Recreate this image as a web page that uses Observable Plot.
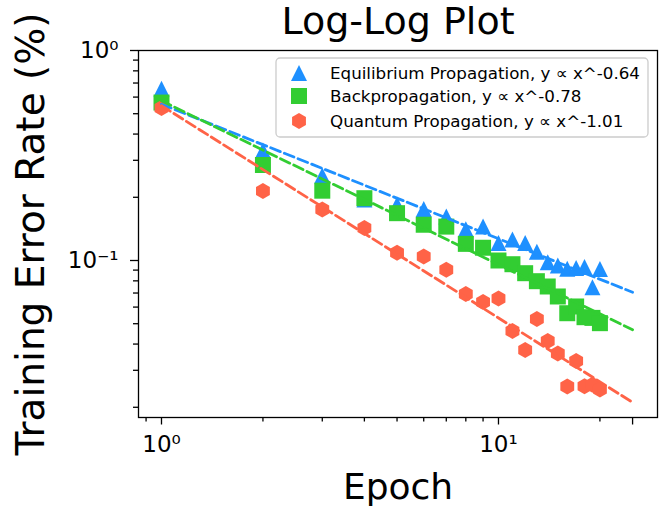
<!DOCTYPE html>
<html><head><meta charset="utf-8">
<script src="https://cdn.jsdelivr.net/npm/d3@7"></script>
<script src="https://cdn.jsdelivr.net/npm/@observablehq/plot@0.6"></script>
<style>
body{margin:0;background:#fff;}
#chart{width:666px;height:509px;}
svg{font-family:"DejaVu Sans",sans-serif;}
</style>
</head><body><div id="chart"></div>
<script>
// ---- data ----
const epochs = [1,2,3,4,5,6,7,8,9,10,11,12,13,14,15,16,17,18,19,20];
const equilibrium = [0.657,0.334,0.254,0.195,0.185,0.176,0.162,0.141,0.145,0.121,0.126,0.121,0.110,0.098,0.0946,0.0913,0.092,0.093,0.0746,0.0910];
const backprop    = [0.565,0.285,0.215,0.198,0.168,0.148,0.145,0.120,0.115,0.100,0.096,0.087,0.0797,0.0752,0.0674,0.0561,0.0604,0.0537,0.0533,0.0503];
const quantum     = [0.532,0.214,0.175,0.143,0.1088,0.1045,0.0903,0.0692,0.0635,0.066,0.0462,0.0375,0.0526,0.0414,0.0361,0.0251,0.0332,0.0252,0.0256,0.0243];
const seriesNames = ["Equilibrium Propagation","Backpropagation","Quantum Propagation"];
const exponents = ["-0.64","-0.78","-1.01"];
const colors = ["#1E90FF","#32CD32","#FF6347"];
// fitted power-law lines: endpoints (epoch 1 and epoch 25)
const fitX = [1, 25];
const fitEquilibrium = [0.555, 0.0706];
const fitBackprop = [0.576, 0.0468];
const fitQuantum = [0.546, 0.0211];
// ticks
const xMajor = [1, 10, 25];
const xMajorLabels = ["10\u2070", "10\u00B9", ""];
const xMinor = [0.9,2,3,4,5,6,7,8,9,20];
const yMajor = [1, 0.1];
const yMajorLabels = ["10\u2070", "10\u207B\u00B9"];
const yMinor = [0.02,0.03,0.04,0.05,0.06,0.07,0.08,0.09,0.2,0.3,0.4,0.5,0.6,0.7,0.8,0.9];
const title = "Log-Log Plot", xLabel = "Epoch", yLabel = "Training Error Rate (%)";

// ---- matplotlib-like marker symbols ----
const triSym = {draw(c, s){const r=Math.sqrt(s/Math.PI);c.moveTo(0,-r);c.lineTo(r,r);c.lineTo(-r,r);c.closePath();}};
const sqSym = {draw(c, s){const r=Math.sqrt(s/Math.PI);c.rect(-r,-r,2*r,2*r);}};
const hexSym = {draw(c, s){const r=Math.sqrt(s/Math.PI);for(let i=0;i<6;i++){const a=-Math.PI/2+i*Math.PI/3;const px=r*Math.cos(a),py=r*Math.sin(a);i?c.lineTo(px,py):c.moveTo(px,py);}c.closePath();}};
const symbols = [triSym, sqSym, hexSym];

const seriesVals = [equilibrium, backprop, quantum];
const fits = [fitEquilibrium, fitBackprop, fitQuantum];
const points = seriesVals.map((vals,k)=>epochs.map((e,i)=>({x:e,y:vals[i]})));
const fitLines = fits.map(f=>fitX.map((x,i)=>({x, y:f[i]})));

const markerR = 8;
const marks = [];
points.forEach((pts,k)=>marks.push(Plot.dot(pts,{x:"x",y:"y",symbol:symbols[k],r:markerR,fill:colors[k],stroke:"none"})));
fitLines.forEach((ln,k)=>marks.push(Plot.line(ln,{x:"x",y:"y",stroke:colors[k],strokeWidth:2.8,strokeDasharray:"10.3 4.4"})));

const axisStyle = {stroke:"black", strokeWidth:1.3};
marks.push(
  Plot.axisX({ticks:xMajor, tickSize:7.5, tickPadding:11, fontSize:23, tickFormat:d=>xMajorLabels[xMajor.indexOf(d)], label:null, ...axisStyle}),
  Plot.axisX({ticks:xMinor, tickSize:4.5, tickFormat:()=> "", label:null, ...axisStyle}),
  Plot.axisY({ticks:yMajor, tickSize:8, tickPadding:12, fontSize:23, tickFormat:d=>yMajorLabels[yMajor.indexOf(d)], label:null, ...axisStyle}),
  Plot.axisY({ticks:yMinor, tickSize:5, tickFormat:()=> "", label:null, ...axisStyle}),
  Plot.frame({stroke:"black", strokeWidth:1.3}),
  Plot.text([title],{frameAnchor:"top", dy:-17, lineAnchor:"bottom", textAnchor:"middle", fontSize:38, fill:"black"}),
  Plot.text([xLabel],{frameAnchor:"bottom", dy:81, lineAnchor:"bottom", textAnchor:"middle", fontSize:36, fill:"black"}),
  Plot.text([yLabel],{frameAnchor:"left", dx:-95, rotate:-90, lineAnchor:"bottom", textAnchor:"middle", fontSize:39, fill:"black"})
);

const chart = Plot.plot({
  width:666, height:509,
  marginLeft:138, marginRight:9, marginTop:50, marginBottom:92,
  style:{fontFamily:"DejaVu Sans", background:"white", color:"black", overflow:"visible"},
  x:{type:"log", domain:[0.8546, 29.64]},
  y:{type:"log", domain:[0.01788, 1]},
  marks
});
document.getElementById("chart").appendChild(chart);

// ---- legend (matplotlib-style box inside the axes, upper right) ----
const svg = d3.select(chart);
const lg = svg.append("g").attr("transform","translate(276,58)");
lg.append("rect").attr("width",372).attr("height",79).attr("rx",4).attr("ry",4)
  .attr("fill","white").attr("fill-opacity",0.8).attr("stroke","#cccccc").attr("stroke-width",1.3);
const rowY = [15, 38, 63];
seriesNames.forEach((name,k)=>{
  const row = lg.append("g").attr("transform",`translate(23,${rowY[k]})`);
  row.append("path").attr("d", d3.symbol(symbols[k], Math.PI*markerR*markerR)()).attr("fill",colors[k]);
  row.append("text").attr("x",31).attr("y",0).attr("dy","0.35em").attr("text-anchor","start")
    .attr("font-size",16.7).attr("font-family","DejaVu Sans").attr("fill","black")
    .text(`${name}, y \u221D x^${exponents[k]}`);
});
</script>
</body></html>
